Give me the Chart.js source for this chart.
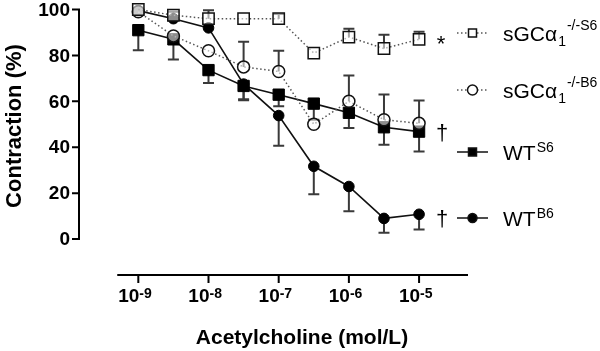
<!DOCTYPE html>
<html>
<head>
<meta charset="utf-8">
<script src="https://cdn.jsdelivr.net/npm/chart.js@4"></script>
<style>
  body { margin: 0; background: #fff; }
  canvas { display: block; }
</style>
</head>
<body>
<canvas id="myChart" width="600" height="351"></canvas>
<script>
// x values are log10 of acetylcholine concentration (mol/L)
const doses = [-9, -8.5, -8, -7.5, -7, -6.5, -6, -5.5, -5];
const xTicks = [-9, -8, -7, -6, -5];
const yTicks = [0, 20, 40, 60, 80, 100];

// sGCa1 -/- S6 (open squares), error bars drawn upward
const koS6 = [100, 97.5, 96, 96, 96, 81, 88, 83, 87];
const koS6Err = [0, 1.5, 3.7, 0, 2, 0, 3.6, 6, 3.3];
// sGCa1 -/- B6 (open circles), error bars drawn upward
const koB6 = [99, 88.5, 82, 75, 73, 50, 60, 52, 50.4];
const koB6Err = [0, 0, 0, 11, 9, 0, 11.2, 11, 10];
// WT S6 (filled squares), error bars drawn downward
const wtS6 = [91, 87, 73.6, 66.7, 62.9, 59, 55, 48.7, 46.8];
const wtS6Err = [8.8, 8.8, 5.6, 5.8, 5, 7, 6.6, 7.6, 8.6];
// WT B6 (filled circles), error bars drawn downward
const wtB6 = [99.5, 96, 92, 67.5, 53.8, 31.7, 22.9, 9, 10.8];
const wtB6Err = [0, 0, 0, 7, 13.2, 12.2, 10.8, 6.3, 6.6];

const marks = ['*', '', '\u2020', '\u2020'];

const FONT = '"Liberation Sans", Arial, sans-serif';

function pts(vals) {
    return doses.map((x, i) => ({x: x, y: vals[i]}));
}

const datasets = [
    {
        label: 'sGCα1-/-S6', data: pts(koS6), err: koS6Err, errDir: 1,
        borderColor: '#555', borderWidth: 1.5, borderDash: [1.5, 2.5],
        pointStyle: 'rect', pointRadius: 8, pointBorderColor: '#111',
        pointBackgroundColor: 'rgba(255,255,255,0.55)', pointBorderWidth: 1.5
    },
    {
        label: 'sGCα1-/-B6', data: pts(koB6), err: koB6Err, errDir: 1,
        borderColor: '#555', borderWidth: 1.5, borderDash: [1.5, 2.5],
        pointStyle: 'circle', pointRadius: 6, pointBorderColor: '#111',
        pointBackgroundColor: 'rgba(255,255,255,0.55)', pointBorderWidth: 1.5
    },
    {
        label: 'WTS6', data: pts(wtS6), err: wtS6Err, errDir: -1,
        borderColor: '#111', borderWidth: 1.6,
        pointStyle: 'rect', pointRadius: 8, pointBorderColor: '#000',
        pointBackgroundColor: '#000', pointBorderWidth: 1
    },
    {
        label: 'WTB6', data: pts(wtB6), err: wtB6Err, errDir: -1,
        borderColor: '#111', borderWidth: 1.6,
        pointStyle: 'circle', pointRadius: 5.3, pointBorderColor: '#000',
        pointBackgroundColor: '#000', pointBorderWidth: 1
    }
];

// legend text pieces: [text, size, baseline offset]
const legendRows = [
    {y: 33, dash: true, style: 'rect', fill: false,
     parts: [['sGCα', 21, 8], ['1', 14, 13], ['-/-S6', 14, -3.5]]},
    {y: 90, dash: true, style: 'circle', fill: false,
     parts: [['sGCα', 21, 7.5], ['1', 14, 12.5], ['-/-B6', 14, -3.5]]},
    {y: 152, dash: false, style: 'rect', fill: true,
     parts: [['WT', 21, 7.5], ['S6', 14, -0.5]]},
    {y: 218, dash: false, style: 'circle', fill: true,
     parts: [['WT', 21, 8], ['B6', 14, 0]]}
];

const decor = {
    id: 'decor',
    beforeDatasetsDraw(chart) {
        const ctx = chart.ctx;
        const xs = chart.scales.x, ys = chart.scales.y;
        ctx.save();
        ctx.strokeStyle = '#3a3a3a';
        ctx.lineWidth = 2;
        chart.data.datasets.forEach(ds => {
            ds.data.forEach((p, i) => {
                const e = ds.err[i];
                if (!e) return;
                const px = xs.getPixelForValue(p.x);
                const y0 = ys.getPixelForValue(p.y);
                const y1 = ys.getPixelForValue(p.y + ds.errDir * e);
                ctx.beginPath();
                ctx.moveTo(px, y0);
                ctx.lineTo(px, y1);
                ctx.moveTo(px - 5.5, y1);
                ctx.lineTo(px + 5.5, y1);
                ctx.stroke();
            });
        });
        ctx.restore();
    },
    afterDraw(chart) {
        const ctx = chart.ctx;
        const xs = chart.scales.x, ys = chart.scales.y;
        const area = chart.chartArea;
        ctx.save();
        ctx.strokeStyle = '#000';
        ctx.fillStyle = '#000';
        ctx.lineWidth = 2;

        // y axis
        const yl = area.left;
        ctx.beginPath();
        ctx.moveTo(yl, ys.getPixelForValue(100) - 1);
        ctx.lineTo(yl, ys.getPixelForValue(0) + 1);
        yTicks.forEach(v => {
            const py = ys.getPixelForValue(v);
            ctx.moveTo(yl - 7, py);
            ctx.lineTo(yl, py);
        });
        ctx.stroke();
        ctx.font = 'bold 19px ' + FONT;
        ctx.textAlign = 'right';
        ctx.textBaseline = 'middle';
        yTicks.forEach(v => ctx.fillText(String(v), yl - 9, ys.getPixelForValue(v) + 1));

        // x axis
        const xb = area.bottom;
        ctx.beginPath();
        ctx.moveTo(xs.getPixelForValue(-9.3), xb);
        ctx.lineTo(area.right, xb);
        xTicks.forEach(v => {
            const px = xs.getPixelForValue(v);
            ctx.moveTo(px, xb);
            ctx.lineTo(px, xb + 8);
        });
        ctx.stroke();
        ctx.textBaseline = 'alphabetic';
        xTicks.forEach(v => {
            const px = xs.getPixelForValue(v);
            ctx.font = 'bold 19px ' + FONT;
            ctx.textAlign = 'right';
            ctx.fillText('10', px + 1, 302);
            ctx.font = 'bold 14px ' + FONT;
            ctx.textAlign = 'left';
            ctx.fillText(String(v), px + 1, 297.5);
        });

        // axis titles
        ctx.font = 'bold 21px ' + FONT;
        ctx.textAlign = 'center';
        ctx.fillText('Acetylcholine (mol/L)', 302, 344);
        ctx.save();
        ctx.translate(21, 126);
        ctx.rotate(-Math.PI / 2);
        ctx.font = 'bold 22px ' + FONT;
        ctx.fillText('Contraction (%)', 0, 0);
        ctx.restore();

        // significance marks
        ctx.font = '22px ' + FONT;
        ctx.textAlign = 'center';
        ctx.fillText(marks[0], 441, 51);
        ctx.fillText(marks[2], 442, 140);
        ctx.fillText(marks[3], 442, 226);

        // legend
        legendRows.forEach(row => {
            ctx.save();
            ctx.lineWidth = 1.5;
            ctx.strokeStyle = row.dash ? '#555' : '#111';
            ctx.setLineDash(row.dash ? [1.5, 2.5] : []);
            ctx.beginPath();
            ctx.moveTo(457, row.y);
            ctx.lineTo(488, row.y);
            ctx.stroke();
            ctx.setLineDash([]);
            ctx.strokeStyle = '#111';
            ctx.fillStyle = row.fill ? '#000' : '#fff';
            ctx.beginPath();
            if (row.style === 'rect') ctx.rect(468.5, row.y - 4, 8, 8);
            else ctx.arc(472.5, row.y, row.fill ? 4.5 : 5, 0, Math.PI * 2);
            ctx.fill();
            ctx.stroke();
            ctx.restore();

            let tx = 503;
            ctx.textAlign = 'left';
            row.parts.forEach(p => {
                ctx.font = p[1] + 'px ' + FONT;
                ctx.fillText(p[0], tx, row.y + p[2]);
                tx += ctx.measureText(p[0]).width + 1;
            });
        });
        ctx.restore();
    }
};

const ctx = document.getElementById('myChart').getContext('2d');

const myChart = new Chart(ctx, {
    type: 'line',
    data: {datasets: datasets},
    options: {
        responsive: false,
        animation: false,
        events: [],
        layout: {padding: {left: 79, right: 132, top: 9, bottom: 76}},
        datasets: {line: {clip: false, tension: 0, fill: false}},
        scales: {
            x: {type: 'linear', min: -9.845, max: -4.303, display: false},
            y: {type: 'linear', min: -15.65, max: 100, display: false}
        },
        plugins: {
            legend: {display: false},
            tooltip: {enabled: false}
        }
    },
    plugins: [decor]
});
</script>
</body>
</html>
